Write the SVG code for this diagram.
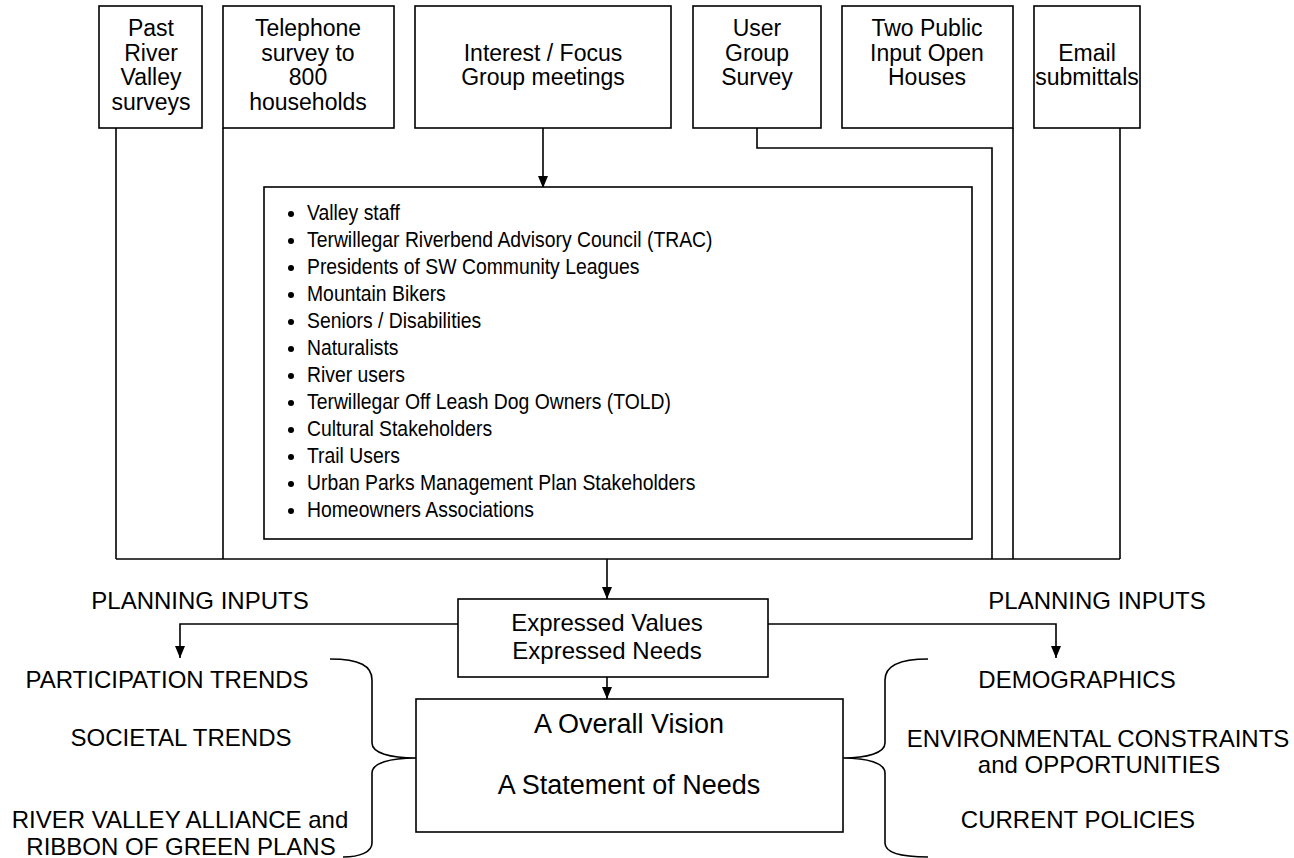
<svg xmlns="http://www.w3.org/2000/svg" width="1294" height="858" viewBox="0 0 1294 858">
<style>
.box{fill:#fff;stroke:#000;stroke-width:1.6}
.ln{fill:none;stroke:#000;stroke-width:1.6}
text{font-family:"Liberation Sans",Arial,sans-serif;fill:#000}
.t{font-size:24px;text-anchor:middle}
.tb{font-size:23px;text-anchor:middle}
.big{font-size:27px;text-anchor:middle}
.li{font-size:22px}
</style>
<defs>
<marker id="ah" viewBox="0 0 12 10" markerWidth="12" markerHeight="10" refX="12" refY="5" orient="auto" markerUnits="userSpaceOnUse">
<path d="M0,0 L12,5 L0,10 z" fill="#000"/>
</marker>
</defs>
<rect width="1294" height="858" fill="#fff"/>

<g id="connectors">
<path class="ln" d="M116,128 V559"/>
<path class="ln" d="M223,128 V559"/>
<path class="ln" d="M757,128 V148 H992 V559"/>
<path class="ln" d="M1013,128 V559"/>
<path class="ln" d="M1120,128 V559"/>
<path class="ln" d="M116,559 H1120"/>
<path class="ln" d="M543,128 V188" marker-end="url(#ah)"/>
<path class="ln" d="M607,559 V599" marker-end="url(#ah)"/>
<path class="ln" d="M607,677 V699" marker-end="url(#ah)"/>
<path class="ln" d="M458,624 H180 V658" marker-end="url(#ah)"/>
<path class="ln" d="M768,624 H1056 V658" marker-end="url(#ah)"/>
<path class="ln" d="M330,659 C360,659 372,666 372,680 V743 C372,753 390,758 416,758 C390,758 372,763 372,773 V843 C372,852 360,857 343,857"/>
<path class="ln" d="M928,659 C898,659 885,666 885,680 V743 C885,753 867,758 843,758 C867,758 885,763 885,773 V843 C885,852 898,857 928,857"/>
</g>

<g id="n-past">
<rect class="box" x="99" y="6" width="103" height="122"/>
<text class="tb" x="151" y="36">Past</text>
<text class="tb" x="151" y="60.5">River</text>
<text class="tb" x="151" y="85">Valley</text>
<text class="tb" x="151" y="109.5">surveys</text>
</g>
<g id="n-phone">
<rect class="box" x="223" y="6" width="171" height="122"/>
<text class="tb" x="308" y="36">Telephone</text>
<text class="tb" x="308" y="60.5">survey to</text>
<text class="tb" x="308" y="85">800</text>
<text class="tb" x="308" y="109.5">households</text>
</g>
<g id="n-focus">
<rect class="box" x="415" y="6" width="256" height="122"/>
<text class="tb" x="543" y="60.5">Interest / Focus</text>
<text class="tb" x="543" y="85">Group meetings</text>
</g>
<g id="n-user">
<rect class="box" x="693" y="6" width="128" height="122"/>
<text class="tb" x="757" y="36">User</text>
<text class="tb" x="757" y="60.5">Group</text>
<text class="tb" x="757" y="85">Survey</text>
</g>
<g id="n-open">
<rect class="box" x="842" y="6" width="171" height="122"/>
<text class="tb" x="927" y="36">Two Public</text>
<text class="tb" x="927" y="60.5">Input Open</text>
<text class="tb" x="927" y="85">Houses</text>
</g>
<g id="n-email">
<rect class="box" x="1034" y="6" width="106" height="122"/>
<text class="tb" x="1087" y="60.5">Email</text>
<text class="tb" x="1087" y="85">submittals</text>
</g>

<g id="n-groups">
<rect class="box" x="264" y="187" width="708" height="352"/>
<g fill="#000">
<circle cx="291" cy="214" r="3"/><circle cx="291" cy="241" r="3"/><circle cx="291" cy="268" r="3"/><circle cx="291" cy="295" r="3"/>
<circle cx="291" cy="322" r="3"/><circle cx="291" cy="349" r="3"/><circle cx="291" cy="376" r="3"/><circle cx="291" cy="403" r="3"/>
<circle cx="291" cy="430" r="3"/><circle cx="291" cy="457" r="3"/><circle cx="291" cy="484" r="3"/><circle cx="291" cy="511" r="3"/>
</g>
<g transform="translate(307 0) scale(0.88 1)">
<text class="li" x="0" y="220">Valley staff</text>
<text class="li" x="0" y="247">Terwillegar Riverbend Advisory Council (TRAC)</text>
<text class="li" x="0" y="274">Presidents of SW Community Leagues</text>
<text class="li" x="0" y="301">Mountain Bikers</text>
<text class="li" x="0" y="328">Seniors / Disabilities</text>
<text class="li" x="0" y="355">Naturalists</text>
<text class="li" x="0" y="382">River users</text>
<text class="li" x="0" y="409">Terwillegar Off Leash Dog Owners (TOLD)</text>
<text class="li" x="0" y="436">Cultural Stakeholders</text>
<text class="li" x="0" y="463">Trail Users</text>
<text class="li" x="0" y="490">Urban Parks Management Plan Stakeholders</text>
<text class="li" x="0" y="517">Homeowners Associations</text>
</g>
</g>

<g id="n-expressed">
<rect class="box" x="458" y="599" width="310" height="78"/>
<text class="t" x="607" y="631">Expressed Values</text>
<text class="t" x="607" y="659">Expressed Needs</text>
</g>

<g id="n-vision">
<rect class="box" x="416" y="699" width="427" height="133"/>
<text class="big" x="629" y="733">A Overall Vision</text>
<text class="big" x="629" y="794">A Statement of Needs</text>
</g>

<g id="labels-left">
<text class="t" x="200" y="609">PLANNING INPUTS</text>
<text class="t" x="167" y="688">PARTICIPATION TRENDS</text>
<text class="t" x="181" y="746">SOCIETAL TRENDS</text>
<text class="t" x="180" y="828">RIVER VALLEY ALLIANCE and</text>
<text class="t" x="181" y="855">RIBBON OF GREEN PLANS</text>
</g>
<g id="labels-right">
<text class="t" x="1097" y="609">PLANNING INPUTS</text>
<text class="t" x="1077" y="688">DEMOGRAPHICS</text>
<text class="t" x="1098" y="747">ENVIRONMENTAL CONSTRAINTS</text>
<text class="t" x="1099" y="773">and OPPORTUNITIES</text>
<text class="t" x="1078" y="828">CURRENT POLICIES</text>
</g>
</svg>
